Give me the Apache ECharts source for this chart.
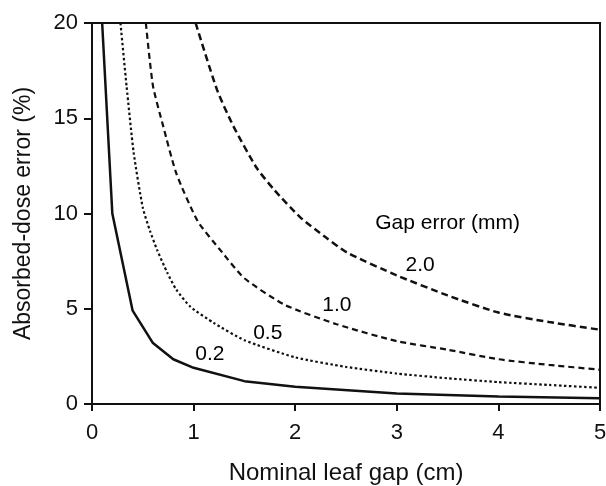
<!DOCTYPE html>
<html>
<head>
<meta charset="utf-8">
<script src="https://cdn.jsdelivr.net/npm/echarts@6/dist/echarts.min.js"></script>
<style>
html,body{margin:0;padding:0;background:#fff;}
#chart{width:606px;height:486px;}
</style>
</head>
<body>
<div id="chart"></div>
<script>
// Nominal leaf gap (cm) vs absorbed-dose error (%) for each gap error (mm)
const gap02 = [[0.1,20],[0.2,10],[0.4,4.9],[0.6,3.2],[0.8,2.35],[1.0,1.9],[1.5,1.2],[2,0.9],[3,0.55],[4,0.4],[5,0.3]];
const gap05 = [[0.28,20],[0.34,16.7],[0.41,13.2],[0.5,10.3],[0.57,9.1],[0.64,8.1],[0.74,6.9],[0.83,6.0],[0.97,5.1],[1.2,4.25],[1.5,3.35],[2,2.45],[2.5,1.95],[3,1.6],[3.5,1.35],[4,1.15],[4.5,1.0],[5,0.85]];
const gap10 = [[0.53,20],[0.6,16.7],[0.7,14.6],[0.83,12.1],[1.04,9.6],[1.26,8.1],[1.5,6.6],[1.9,5.2],[2.4,4.2],[3,3.3],[3.5,2.85],[4,2.35],[4.5,2.05],[5,1.8]];
const gap20 = [[1.02,20],[1.23,16.5],[1.39,14.6],[1.62,12.4],[1.8,11.2],[2.05,9.8],[2.3,8.75],[2.51,7.95],[3,6.75],[3.5,5.7],[4,4.8],[4.5,4.3],[5,3.9]];
const curveNames = ['0.2','0.5','1.0','2.0'];
const labelPos = [[1.16,2.6],[1.73,3.7],[2.41,5.2],[3.23,7.3]];
const legendTitle = 'Gap error (mm)';
const legendTitlePos = [3.5,9.5];
const xTicks = [0,1,2,3,4,5];
const yTicks = [0,5,10,15,20];

const chart = echarts.init(document.getElementById('chart'), null, {renderer:'canvas'});
const FONT = 'Liberation Sans, Arial, Helvetica, sans-serif';
const black = '#111';
const styles = [
  {type:'solid', width:2.5, smooth:false},
  {type:[2.5,2.5], width:2.2, smooth:0.2},
  {type:[6,4], width:2.2, smooth:0.2},
  {type:[7,4], width:2.5, smooth:0.2}
];
const datasets = [gap02, gap05, gap10, gap20];
const series = datasets.map((d,i)=>({
  type:'line', name:curveNames[i], data:d, showSymbol:false, symbol:'none', smooth:styles[i].smooth,
  lineStyle:{color:black, width:styles[i].width, type:styles[i].type}, clip:true, z:3
}));
series.push({
  type:'scatter', symbolSize:1, silent:true, z:5,
  itemStyle:{color:'rgba(0,0,0,0)'},
  data: labelPos.map((p,i)=>({value:p, name:curveNames[i]})).concat([{value:legendTitlePos, name:legendTitle}]),
  label:{show:true, position:'inside', formatter:p=>p.name, color:'#000', opacity:1,
    textBorderWidth:0, fontSize:21, fontFamily:FONT},
  emphasis:{disabled:true}
});
chart.setOption({
  animation:false,
  backgroundColor:'#fff',
  grid:{left:92, right:6, top:23, bottom:82, outerBoundsMode:'none', containLabel:false,
    show:true, borderColor:black, borderWidth:2, backgroundColor:'transparent'},
  xAxis:{
    type:'value', min:0, max:5, interval:1,
    name:'Nominal leaf gap (cm)', nameLocation:'middle', nameGap:57,
    nameTextStyle:{fontSize:24, color:black, fontFamily:FONT},
    axisLine:{show:true, onZero:false, lineStyle:{color:black, width:2}},
    axisTick:{show:true, inside:false, length:7, lineStyle:{color:black, width:2}},
    axisLabel:{fontSize:22, color:black, fontFamily:FONT, margin:18, formatter:v=>xTicks.includes(v)?String(v):''},
    splitLine:{show:false}
  },
  yAxis:{
    type:'value', min:0, max:20, interval:5,
    name:'Absorbed-dose error (%)', nameLocation:'middle', nameGap:57, nameRotate:90,
    nameTextStyle:{fontSize:23, color:black, fontFamily:FONT},
    axisLine:{show:true, onZero:false, lineStyle:{color:black, width:2}},
    axisTick:{show:true, inside:false, length:8, lineStyle:{color:black, width:2}},
    axisLabel:{fontSize:22, color:black, fontFamily:FONT, margin:14, formatter:v=>yTicks.includes(v)?String(v):''},
    splitLine:{show:false}
  },
  series
});
</script>
</body>
</html>
